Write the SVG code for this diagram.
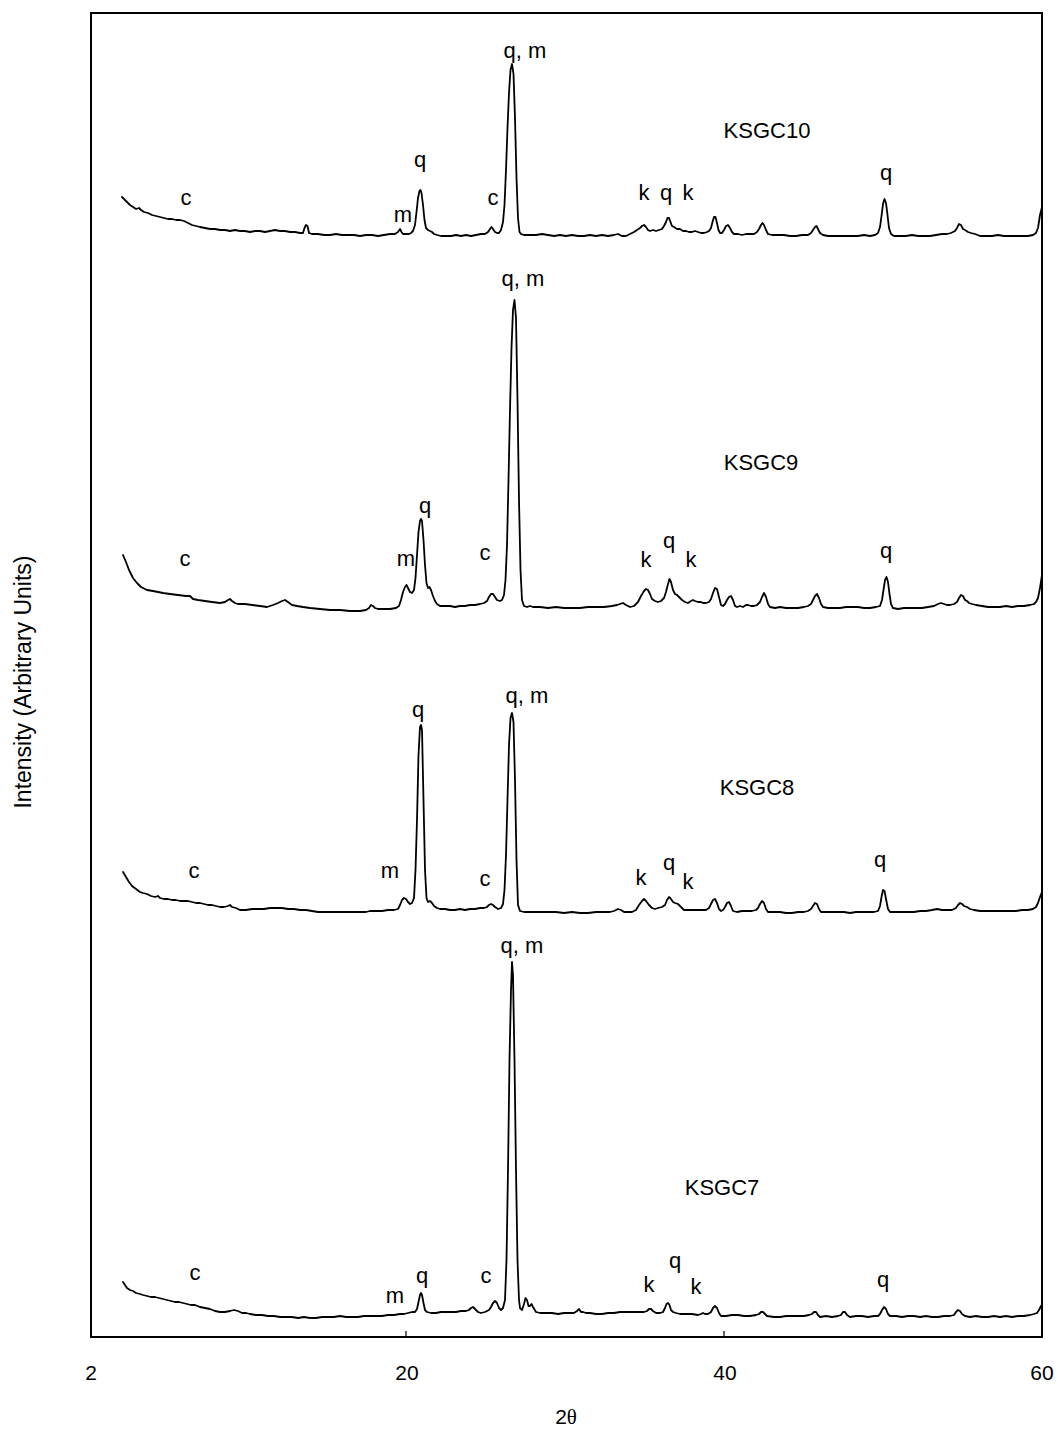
<svg xmlns="http://www.w3.org/2000/svg" width="1058" height="1433" viewBox="0 0 1058 1433">
<style>
text{font-family:"Liberation Sans",Arial,sans-serif;fill:#000;}
.lbl{font-size:22px;text-anchor:middle;}
.name{font-size:22px;text-anchor:middle;}
.ax{font-size:21px;text-anchor:middle;}
.tr{fill:none;stroke:#000;stroke-width:1.8;stroke-linejoin:round;stroke-linecap:round;}
</style>
<rect width="1058" height="1433" fill="#fff"/>
<g id="frame">
<rect x="91" y="13" width="951" height="1324" fill="none" stroke="#000" stroke-width="2"/>
<line x1="406" y1="1331" x2="406" y2="1337" stroke="#000" stroke-width="1.2"/>
<line x1="724" y1="1331" x2="724" y2="1337" stroke="#000" stroke-width="1.2"/>
</g>
<g id="axis-labels">
<text class="ax" x="91" y="1380">2</text>
<text class="ax" x="407" y="1380">20</text>
<text class="ax" x="725" y="1380">40</text>
<text class="ax" x="1042" y="1380">60</text>
<text class="ax" x="566" y="1424">2<tspan font-family="'Liberation Serif',serif">θ</tspan></text>
<text x="0" y="0" font-size="23" text-anchor="middle" transform="translate(31,682) rotate(-90)">Intensity (Arbitrary Units)</text>
</g>
<g id="traces">
<polyline id="trace-KSGC10" class="tr" points="122,197 124,199 127,202 130,205 133,207 136,209 139,208 141,210 144,212 148,213 152,215 156,216 160,217 164,218 168,219 172,219 176,220 180,220 184,221 188,223 192,225 196,226 200,227 205,228 210,229 215,229 220,230 225,230 230,231 235,230 240,231 245,231 250,232 255,231 260,231 265,232 270,231 275,230 280,231 285,231 290,232 295,232 300,233 303,233 304.5,228 306,225 307.5,226 309,233 312,234 318,234 324,235 330,235 336,234 342,235 348,235 354,235 360,236 366,235 372,235 378,236 384,235 390,234 395,234 398,232 400,229 401.5,232 403,234 406,234 409,234 411,233 413,231 415,225 416.5,212 418,198 419.5,191 420.5,190 421.5,193 423,205 424.5,220 426,228 428,230 430,231 432,232 434,234 437,235 441,236 446,236 451,236 456,235 461,236 466,235 471,236 476,235 481,234 485,234 488,232 490,229 491.5,227 493,229 495,232 497,233 499,233 501,230 503,222 504.5,205 506,170 507.5,128 509,93 510.5,70 512,64 513.5,74 515,118 516.5,178 518,218 519.5,232 521,234 524,235 530,235 536,235 542,234 548,235 554,236 560,235 566,236 572,235 578,236 584,236 590,235 596,236 602,235 608,236 614,235 618,234 622,236 626,236 630,234 634,232 637,230 640,228 642,226 644,225 646,227 648,230 650,231 653,230 656,231 659,230 662,229 664,226 666,222 667.5,218 669,218 670.5,222 672,226 674,227 677,229 680,229 683,231 686,231 689,232 692,232 695,231 698,232 701,233 704,233 707,232 709,231 711,228 712.5,222 714,217 715.5,217 717,223 718.5,230 720,233 722,233 724,230 726,226 728,225 730,228 732,232 734,234 738,234 742,235 746,234 750,234 754,234 757,232 759,229 761,225 762.5,223 764,225 766,230 768,234 772,235 778,235 784,235 790,236 796,236 802,235 808,235 811,233 813,230 815,227 816.5,226 818,229 820,233 823,235 828,236 834,236 840,236 846,236 852,236 858,236 864,235 870,236 875,235 878,233 880,227 881.5,216 883,204 884.5,199 886,203 887.5,215 889,228 891,234 894,236 900,236 906,236 912,235 918,236 924,236 930,236 936,235 942,234 947,234 951,233 955,231 957,228 959,224 961,225 963,229 965,230 968,232 971,233 975,234 980,236 986,236 992,236 998,235 1004,236 1010,236 1016,236 1022,236 1028,236 1033,235 1036,233 1038,228 1040,215 1042,207"/>
<polyline id="trace-KSGC9" class="tr" points="123,555 126,562 129,570 133,578 137,583 141,587 147,590 153,591 158,592 163,593 170,594 178,595 186,596 190,596 193,599 198,600 205,601 212,602 220,603 225,602 228,600 230,599 232,601 235,603 238,604 245,604 252,605 260,606 267,607 273,605 278,603 282,601 285,600 288,602 292,605 297,606 303,607 310,608 320,609 330,610 340,610 350,611 360,611 366,610 369,608 371,605 373,606 375,608 378,609 384,609 390,609 396,608 399,606 401,600 403,592 405,587 406.5,585 408,588 410,592 412,593 414,590 415.5,578 417,555 418.5,532 420,521 421,519 422,521 423.5,540 425,565 426.5,583 428,588 429.5,587 431,590 433,596 435,601 437,604 440,606 445,606 450,606 455,607 460,606 465,606 470,605 475,605 480,604 484,603 487,601 489,597 491,594 493,594 495,597 497,600 500,601 502,600 504,595 505.5,580 507,545 508.5,480 510,410 511.5,348 513,310 514.5,300 516,318 517.5,400 519,500 520.5,570 522,600 524,606 527,607 530,606 533,607 540,607 548,608 556,607 564,608 572,608 580,608 588,607 596,607 604,607 612,606 617,605 620,604 623,603 626,605 630,607 634,606 638,602 641,596 644,591 646,589 648,590 650,594 652,599 655,601 658,602 661,601 664,598 666,592 668,584 669.5,579 671,582 673,590 675,594 677,595 679,597 682,600 685,602 688,603 691,601 693,600 695,601 698,602 701,602 703,603 706,603 709,602 711,599 713,593 715,588 717,589 719,597 721,605 723,606 725,604 727,600 729,597 731,596 733,600 735,606 737,607 740,606 743,607 746,605 748,605 751,606 754,606 757,605 760,602 762,597 764,593 766,597 768,604 770,607 775,608 780,607 786,608 792,608 798,608 804,607 808,606 811,604 813,600 815,596 817,594 819,598 821,604 823,607 828,608 834,608 840,608 846,607 852,607 858,607 864,608 870,608 876,607 880,606 882,600 883.5,590 885,580 886.5,577 888,582 889.5,594 891,604 893,608 898,609 904,608 910,608 916,608 922,608 928,607 934,606 938,604 941,603 944,604 947,605 950,605 954,604 957,602 959,598 961,595 963,596 965,600 967,601 969,603 972,604 976,605 982,606 988,607 994,607 1000,607 1006,606 1012,607 1018,606 1024,606 1030,605 1034,604 1036,602 1038,598 1040,588 1042,575"/>
<polyline id="trace-KSGC8" class="tr" points="123,872 126,877 129,882 132,886 136,889 140,892 143,893 147,894 151,896 155,897 158,896 160,898 164,899 168,899 172,900 176,900 180,901 184,901 188,901 192,902 196,903 200,903 204,904 208,905 212,905 216,906 220,907 224,907 228,906 230,905 232,907 236,908 240,910 246,910 252,909 258,909 264,909 270,908 276,908 282,908 288,909 294,909 300,910 306,910 312,911 318,912 326,912 334,912 342,912 350,912 358,912 366,912 370,911 376,911 382,911 388,910 394,910 398,909 400,905 402,900 404,898 406,899 408,902 410,904 412,903 414,898 415.5,870 417,820 418.5,755 420,727 421,725 422,730 423.5,800 425,870 426.5,898 428,902 430,901 432,903 434,906 437,908 440,909 445,909 450,910 455,910 460,909 465,910 470,909 475,909 480,908 484,908 487,907 489,905 491,904 493,905 495,907 498,909 501,908 503,904 504.5,890 506,855 507.5,800 509,745 510.5,718 512,713 513.5,722 515,780 516.5,860 518,905 520,911 524,912 530,912 536,912 542,912 548,912 556,912 564,913 572,912 580,913 588,913 596,912 604,912 610,912 614,911 618,909 621,910 624,912 628,912 632,912 636,910 639,905 642,901 644,899 646,901 649,905 652,908 655,909 658,908 662,907 665,905 667,900 669,897 671,899 673,902 675,903 678,904 681,907 684,910 690,910 696,910 702,910 706,910 709,908 711,904 713,900 715,899 717,903 719,909 721,911 723,910 725,907 727,903 729,902 731,906 733,911 737,912 742,911 747,911 752,911 756,910 758,908 760,904 762,901 764,903 766,909 768,912 774,912 780,912 786,913 792,913 798,912 804,912 808,911 811,909 813,906 815,903 817,904 819,909 821,912 826,912 832,912 838,912 844,912 850,913 856,912 862,912 868,912 874,912 878,911 880,906 881.5,897 883,890 884.5,891 886,899 888,909 890,912 896,912 902,912 908,912 914,912 920,911 926,911 932,910 937,909 942,910 947,910 952,910 956,908 958,905 960,903 962,904 964,906 967,907 970,909 974,910 980,911 986,911 992,911 998,911 1004,911 1010,911 1016,911 1022,910 1028,910 1033,909 1036,907 1038,903 1040,897 1042,892"/>
<polyline id="trace-KSGC7" class="tr" points="123,1282 125,1285 127,1288 130,1290 133,1291 136,1293 140,1294 143,1295 147,1296 151,1297 155,1297 159,1298 163,1299 167,1300 171,1301 175,1302 179,1302 183,1303 187,1304 191,1305 195,1305 200,1307 205,1308 210,1309 215,1311 220,1312 225,1312 230,1311 234,1310 238,1311 242,1313 246,1313 250,1314 256,1315 262,1315 268,1316 274,1316 280,1317 286,1317 292,1317 298,1318 304,1317 310,1318 316,1318 322,1317 328,1317 334,1317 340,1316 346,1317 352,1317 358,1317 364,1316 370,1316 376,1316 382,1316 388,1315 394,1315 400,1314 404,1314 408,1313 412,1312 415,1312 417,1309 418.5,1302 420,1295 421,1293 422,1295 423.5,1303 425,1310 427,1312 431,1313 436,1313 441,1312 446,1312 451,1312 456,1312 461,1311 466,1311 469,1310 471,1308 473,1307 475,1309 478,1312 481,1313 485,1312 489,1310 491,1307 493,1303 495,1301 497,1303 499,1308 501,1310 503,1308 505,1300 506.5,1260 508,1170 509.5,1060 511,990 512,962 513,975 514.5,1060 516,1170 517.5,1260 519,1300 520,1308 522,1310 524,1304 525.5,1298 527,1300 528.5,1306 530,1306 531.5,1304 533,1307 536,1312 540,1313 546,1313 552,1313 558,1314 564,1313 570,1313 574,1313 577,1311 579,1309 581,1312 583,1312 586,1313 590,1313 596,1314 602,1314 608,1313 614,1313 620,1312 626,1312 632,1312 638,1312 644,1312 647,1311 649,1309 651,1309 653,1311 656,1313 660,1313 663,1312 665,1308 666.5,1304 668,1303 669.5,1305 671,1310 673,1312 676,1313 680,1314 686,1314 692,1314 698,1315 701,1314 703,1313 705,1314 708,1314 711,1312 713,1308 715,1306 717,1308 719,1313 721,1316 726,1316 732,1315 738,1315 744,1316 750,1316 756,1315 759,1314 761,1312 763,1312 765,1314 767,1316 774,1317 780,1317 786,1316 792,1316 798,1316 804,1316 809,1315 812,1314 814,1312 816,1312 818,1315 820,1317 826,1316 832,1317 838,1316 841,1315 843,1312 845,1312 847,1315 850,1317 856,1316 862,1316 868,1317 874,1316 878,1316 880,1314 882,1310 884,1307 886,1309 888,1314 890,1316 896,1316 902,1317 908,1316 914,1316 920,1317 926,1316 932,1317 938,1317 944,1316 950,1316 954,1315 956,1312 958,1310 960,1311 962,1314 965,1316 970,1317 976,1316 982,1317 988,1317 994,1316 1000,1317 1006,1316 1012,1317 1018,1316 1024,1316 1030,1315 1034,1314 1037,1313 1039,1310 1041,1306 1042,1305"/>
</g>
<g id="labels-KSGC10">
<text class="name" x="767" y="138">KSGC10</text>
<text class="lbl" x="186" y="205">c</text>
<text class="lbl" x="403" y="222">m</text>
<text class="lbl" x="420" y="167">q</text>
<text class="lbl" x="493" y="205">c</text>
<text class="lbl" x="525" y="58">q, m</text>
<text class="lbl" x="644" y="200">k</text>
<text class="lbl" x="666" y="200">q</text>
<text class="lbl" x="688" y="200">k</text>
<text class="lbl" x="886" y="180">q</text>
</g>
<g id="labels-KSGC9">
<text class="name" x="761" y="470">KSGC9</text>
<text class="lbl" x="185" y="566">c</text>
<text class="lbl" x="406" y="566">m</text>
<text class="lbl" x="425" y="513">q</text>
<text class="lbl" x="485" y="560">c</text>
<text class="lbl" x="523" y="286">q, m</text>
<text class="lbl" x="646" y="567">k</text>
<text class="lbl" x="669" y="548">q</text>
<text class="lbl" x="691" y="567">k</text>
<text class="lbl" x="886" y="558">q</text>
</g>
<g id="labels-KSGC8">
<text class="name" x="757" y="795">KSGC8</text>
<text class="lbl" x="194" y="878">c</text>
<text class="lbl" x="390" y="878">m</text>
<text class="lbl" x="418" y="717">q</text>
<text class="lbl" x="485" y="886">c</text>
<text class="lbl" x="527" y="703">q, m</text>
<text class="lbl" x="641" y="885">k</text>
<text class="lbl" x="669" y="870">q</text>
<text class="lbl" x="688" y="889">k</text>
<text class="lbl" x="880" y="867">q</text>
</g>
<g id="labels-KSGC7">
<text class="name" x="722" y="1195">KSGC7</text>
<text class="lbl" x="195" y="1280">c</text>
<text class="lbl" x="395" y="1303">m</text>
<text class="lbl" x="422" y="1283">q</text>
<text class="lbl" x="486" y="1283">c</text>
<text class="lbl" x="522" y="953">q, m</text>
<text class="lbl" x="649" y="1292">k</text>
<text class="lbl" x="675" y="1268">q</text>
<text class="lbl" x="696" y="1294">k</text>
<text class="lbl" x="883" y="1287">q</text>
</g>
</svg>
